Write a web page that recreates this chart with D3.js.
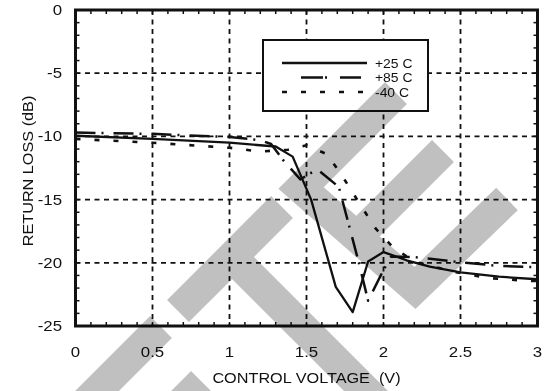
<!DOCTYPE html>
<html>
<head>
<meta charset="utf-8">
<script src="https://cdn.jsdelivr.net/npm/d3@7"></script>
<style>
body { margin: 0; background: #fff; }
svg { display: block; }
text { font-family: "Liberation Sans", Arial, sans-serif; fill: #111; }
</style>
</head>
<body>
<svg id="chart" width="545" height="391"></svg>
<script>
// values
var xTicks = [0, 0.5, 1, 1.5, 2, 2.5, 3];
var xTickLabels = ["0", "0.5", "1", "1.5", "2", "2.5", "3"];
var yTicks = [0, -5, -10, -15, -20, -25];
var yTickLabels = ["0", "-5", "-10", "-15", "-20", "-25"];
var seriesNames = ["+25 C", "+85 C", "-40 C"];

var v25 = [0, 0.5, 1.0, 1.3, 1.41, 1.53, 1.69, 1.80, 1.90, 2.0, 2.15, 2.3, 2.5, 2.75, 3.0];
var rl25 = [-9.95, -10.2, -10.5, -10.8, -11.6, -15.0, -21.9, -23.9, -19.9, -19.15, -19.8, -20.3, -20.75, -21.1, -21.3];

var v85 = [0, 0.5, 1.0, 1.2, 1.27, 1.35, 1.46, 1.57, 1.71, 1.84, 1.90, 1.99, 2.05, 2.2, 2.5, 2.75, 3.0];
var rl85 = [-9.7, -9.8, -10.05, -10.3, -10.6, -11.9, -13.4, -12.6, -14.0, -20.0, -23.0, -20.8, -19.5, -19.55, -19.95, -20.25, -20.35];

var vm40 = [0, 0.5, 1.0, 1.2, 1.38, 1.5, 1.63, 1.72, 1.87, 1.95, 2.06, 2.2, 2.45, 2.68, 2.9, 3.0];
var rlm40 = [-10.2, -10.5, -10.9, -11.2, -11.05, -10.7, -11.4, -12.9, -15.8, -17.3, -18.75, -19.9, -20.7, -21.2, -21.4, -21.45];

var svg = d3.select("#chart");
var x = d3.scaleLinear().domain([0, 3]).range([75.5, 537.5]);
var y = d3.scaleLinear().domain([0, -25]).range([10, 326]);
var stretch = 1.16; // the scanned labels are a bit wide

function zip(xs, ys) {
	var out = [];
	for (var i = 0; i<xs.length; i++) out.push([xs[i], ys[i]]);
	return out;
}

function label(px, py, str, size, anchor, rotate) {
	var g = svg.append("g")
		.attr("transform", "translate(" + px + "," + py + ")" + (rotate ? " rotate(-90)" : "") + " scale(" + stretch + ",1)");
	g.append("text")
		.attr("text-anchor", anchor)
		.attr("font-size", size)
		.text(str);
}

// grid
var grid = svg.append("g").attr("stroke", "#111").attr("stroke-width", 1.8).attr("stroke-dasharray", "5,4.5");
grid.selectAll("line.gx").data(xTicks.slice(1, -1)).enter().append("line")
	.attr("x1", function (d) { return x(d); }).attr("x2", function (d) { return x(d); })
	.attr("y1", y(0)).attr("y2", y(-25));
grid.selectAll("line.gy").data(yTicks.slice(1, -1)).enter().append("line")
	.attr("y1", function (d) { return y(d); }).attr("y2", function (d) { return y(d); })
	.attr("x1", x(0)).attr("x2", x(3));

// minor ticks pointing inward
var minor = svg.append("g").attr("stroke", "#111").attr("stroke-width", 1.5);
var xMinor = d3.range(1, 30).map(function (i) { return i/10; });
var yMinor = d3.range(1, 25).map(function (i) { return -i; });
xMinor.forEach(function (d) {
	minor.append("line").attr("x1", x(d)).attr("x2", x(d)).attr("y1", y(0)).attr("y2", y(0)+4);
	minor.append("line").attr("x1", x(d)).attr("x2", x(d)).attr("y1", y(-25)).attr("y2", y(-25)-4);
});
yMinor.forEach(function (d) {
	minor.append("line").attr("y1", y(d)).attr("y2", y(d)).attr("x1", x(0)).attr("x2", x(0)+4);
	minor.append("line").attr("y1", y(d)).attr("y2", y(d)).attr("x1", x(3)).attr("x2", x(3)-4);
});

// curves
var line = d3.line().x(function (d) { return x(d[0]); }).y(function (d) { return y(d[1]); });
var styles = [
	{data: zip(v25, rl25), dash: null, width: 2.3},
	{data: zip(v85, rl85), dash: "20,6,2,10", width: 2.5},
	{data: zip(vm40, rlm40), dash: "5,14", width: 2.6}
];
styles.forEach(function (s) {
	svg.append("path")
		.attr("d", line(s.data))
		.attr("fill", "none")
		.attr("stroke", "#111")
		.attr("stroke-width", s.width)
		.attr("stroke-linejoin", "round")
		.attr("stroke-dasharray", s.dash);
});

// frame
svg.append("rect")
	.attr("x", x(0)).attr("y", y(0))
	.attr("width", x(3)-x(0)).attr("height", y(-25)-y(0))
	.attr("fill", "none").attr("stroke", "#111").attr("stroke-width", 3);

// legend
var leg = svg.append("g");
leg.append("rect").attr("x", 263).attr("y", 40).attr("width", 165).attr("height", 71)
	.attr("fill", "#fff").attr("stroke", "#111").attr("stroke-width", 2);
var legLines = [
	{x1: 282, x2: 367, dash: null},
	{x1: 301, x2: 361, dash: "22,2,2,13"},
	{x1: 282, x2: 363, dash: "5,14"}
];
legLines.forEach(function (l, i) {
	var ly = 63 + i*14.5;
	leg.append("line").attr("x1", l.x1).attr("x2", l.x2).attr("y1", ly).attr("y2", ly)
		.attr("stroke", "#111").attr("stroke-width", 2.6).attr("stroke-dasharray", l.dash);
	label(375, ly+4.5, seriesNames[i], 12, "start", false);
});

// tick labels and titles
xTicks.forEach(function (d, i) { label(x(d), 357, xTickLabels[i], 14.5, "middle", false); });
yTicks.forEach(function (d, i) { label(62, y(d)+5, yTickLabels[i], 14.5, "end", false); });
label(x(1.5), 383, "CONTROL VOLTAGE\u00a0\u00a0(V)", 14, "middle", false);
label(33, 171, "RETURN LOSS (dB)", 14, "middle", true);

// grey watermark stripes over everything, multiplied so black stays black
var wm = svg.append("g")
	.style("mix-blend-mode", "multiply")
	.attr("fill", "none").attr("stroke", "#c0c0c0").attr("stroke-width", 31)
	.attr("stroke-linejoin", "miter").attr("stroke-linecap", "butt");
var stripes = [
	[[70, 418], [161, 327]],
	[[178, 311], [282, 207]],
	[[232, 257], [410, 435]],
	[[202, 382], [160, 424]],
	[[396, 93], [301, 188], [415, 288], [507, 199]],
	[[443, 151], [354, 240]]
];
stripes.forEach(function (p) {
	wm.append("path").attr("d", d3.line()(p));
});
</script>
</body>
</html>
